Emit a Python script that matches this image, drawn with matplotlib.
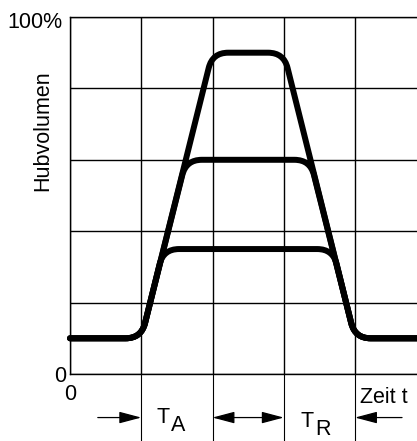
import numpy as np
import matplotlib
matplotlib.use("Agg")
import matplotlib.pyplot as plt
from matplotlib.path import Path
from matplotlib.patches import PathPatch

plt.rcParams['font.family'] = ['Liberation Sans', 'DejaVu Sans']

# stroke curves: time in grid divisions, volume in percent
t_high = [0, 1.0, 2.0, 3.0, 4.0, 5.0]
v_high = [10, 10, 90, 90, 10, 10]
t_mid = [0, 1.0, 1.63, 3.37, 4.0, 5.0]
v_mid = [10, 10, 60, 60, 10, 10]
t_low = [0, 1.0, 1.31, 3.69, 4.0, 5.0]
v_low = [10, 10, 35, 35, 10, 10]

y_ticks = [0, 20, 40, 60, 80, 100]
x_ticks = [0, 1, 2, 3, 4]


def rounded_path(xs, ys, r=0.22, yscale=20.0):
    # round each corner with a quadratic bezier, measured in grid units
    pts = np.column_stack([xs, np.asarray(ys, float) / yscale])
    verts = [pts[0]]
    codes = [Path.MOVETO]
    for i in range(1, len(pts) - 1):
        p, a, b = pts[i], pts[i - 1], pts[i + 1]
        d1, d2 = a - p, b - p
        l1, l2 = np.hypot(*d1), np.hypot(*d2)
        rr = min(r, 0.45 * l1, 0.45 * l2)
        verts += [p + d1 / l1 * rr, p, p + d2 / l2 * rr]
        codes += [Path.LINETO, Path.CURVE3, Path.CURVE3]
    verts.append(pts[-1])
    codes.append(Path.LINETO)
    verts = np.array(verts)
    verts[:, 1] *= yscale
    return Path(verts, codes)


fig = plt.figure(figsize=(4.17, 4.41), dpi=100)
ax = fig.add_axes([70 / 417, 67 / 441, 347 / 417, 357 / 441])
ax.set_xlim(0, 4.87)
ax.set_ylim(0, 100)
ax.set_xticks(x_ticks)
ax.set_yticks(y_ticks)
ax.tick_params(length=0, labelbottom=False, labelleft=False)
ax.grid(True, color='black', linewidth=1.0)
for side in ['left', 'bottom', 'top']:
    ax.spines[side].set_linewidth(1.0)
ax.spines['right'].set_visible(False)

for xs, ys in [(t_high, v_high), (t_mid, v_mid), (t_low, v_low)]:
    patch = PathPatch(rounded_path(xs, ys), facecolor='none', edgecolor='black',
                      linewidth=4.3, capstyle='round', joinstyle='round',
                      clip_on=False, zorder=3)
    ax.add_patch(patch)

# marker lines below the time axis
for xv in x_ticks[1:]:
    ax.axvline(xv, ymin=-0.19, ymax=0, color='black', linewidth=0.8, clip_on=False)

trans = ax.get_xaxis_transform()
arrow_y = -0.122
head = dict(color='black', lw=0.9, shrinkA=0, shrinkB=0,
            mutation_scale=20)
ax.annotate('', xy=(1.0, arrow_y), xytext=(0.39, arrow_y), xycoords=trans,
            textcoords=trans, annotation_clip=False,
            arrowprops=dict(arrowstyle='-|>,head_length=0.68,head_width=0.18', **head))
ax.annotate('', xy=(3.0, arrow_y), xytext=(2.0, arrow_y), xycoords=trans,
            textcoords=trans, annotation_clip=False,
            arrowprops=dict(arrowstyle='<|-|>,head_length=0.68,head_width=0.18', **head))
ax.annotate('', xy=(4.0, arrow_y), xytext=(4.66, arrow_y), xycoords=trans,
            textcoords=trans, annotation_clip=False,
            arrowprops=dict(arrowstyle='-|>,head_length=0.68,head_width=0.18', **head))

fs = 15.5
ta = ax.transAxes
ax.text(-0.023, 0.969, '100%', transform=ta, ha='right', va='baseline', fontsize=fs)
ax.text(-0.029, -0.022, '0', transform=ta, ha='center', va='baseline', fontsize=fs)
ax.text(0.0, -0.073, '0', transform=ta, ha='center', va='baseline', fontsize=fs)
ax.text(-0.078, 0.681, 'Hubvolumen', transform=ta, ha='center', va='center',
        rotation=90, fontsize=fs)
ax.text(0.268, -0.137, 'T', transform=ta, ha='center', va='baseline', fontsize=fs)
ax.text(0.312, -0.160, 'A', transform=ta, ha='center', va='baseline', fontsize=fs)
ax.text(0.684, -0.148, 'T', transform=ta, ha='center', va='baseline', fontsize=fs)
ax.text(0.730, -0.171, 'R', transform=ta, ha='center', va='baseline', fontsize=fs)
ax.text(0.836, -0.081, 'Zeit t', transform=ta, ha='left', va='baseline', fontsize=fs)

fig.savefig('out.png', dpi=100)
